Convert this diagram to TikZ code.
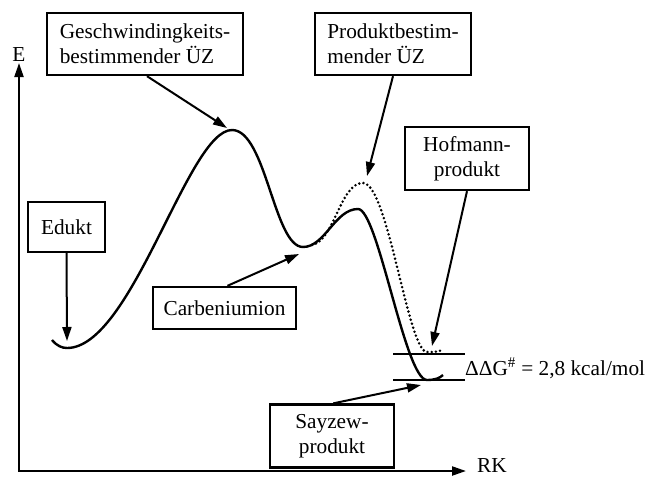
\documentclass[tikz,border=0pt]{standalone}
\usepackage{fontspec}
\setmainfont{Liberation Serif}
\usetikzlibrary{arrows.meta,calc}
\begin{document}
\begin{tikzpicture}[x=1pt,y=-1pt,
  lbl/.style={draw,line width=2.3pt,inner sep=0pt,font=\fontsize{21.3}{25}\selectfont},
  ptr/.style={line width=2pt,-{Triangle[length=14pt,width=9pt]}},
  curve/.style={line width=2.4pt},
  dotcurve/.style={line width=2.8pt,dash pattern=on 0pt off 4.2pt,line cap=round},
  level/.style={line width=2.2pt},
  axis/.style={line width=2.2pt,{Triangle[length=14pt,width=9pt]}-{Triangle[length=14pt,width=9pt]}}]
\useasboundingbox (0,0) rectangle (645,479);
% axes
\coordinate (etop) at (19,63);
\coordinate (rkend) at (466,471);
\draw[axis] (etop) |- (rkend);
\node[font=\fontsize{21.3}{25}\selectfont,inner sep=0pt] (E) at (19,55) {E};
\node[font=\fontsize{21.3}{25}\selectfont,inner sep=0pt,anchor=west] (RK) at (477,466) {RK};
% boxes
\node[lbl,minimum width=196pt,minimum height=62pt,align=left] (geschw) at (145,44) {Geschwindingkeits-\\bestimmender ÜZ};
\node[lbl,minimum width=156pt,minimum height=62pt,align=left] (produkt) at (393,44) {Produktbestim-\\mender ÜZ};
\node[lbl,minimum width=124pt,minimum height=63pt,align=center] (hofmann) at (467,158.5) {Hofmann-\\produkt};
\node[lbl,minimum width=77pt,minimum height=50pt] (edukt) at (66.5,227) {Edukt};
\node[lbl,minimum width=143pt,minimum height=42pt] (carb) at (224.5,308) {Carbeniumion};
\node[lbl,minimum width=124pt,minimum height=63pt,align=center] (sayzew) at (332,436) {Sayzew-\\produkt};
% energy curves
\draw[curve] (52,340) .. controls (57,346) and (62,348) .. (67,348)
  .. controls (132,348) and (188,130) .. (232,130)
  .. controls (266,130) and (274,247) .. (303,247)
  .. controls (325,247) and (335,209) .. (358,209)
  .. controls (378,209) and (405,380) .. (427,380)
  .. controls (435,380) and (440,378) .. (443,375);
\draw[dotcurve] (312,245) .. controls (335,240) and (340,183) .. (363,183)
  .. controls (388,183) and (408,352) .. (427,352)
  .. controls (434,352) and (438,352) .. (442,350);
% levels
\coordinate (l1a) at (393,354); \coordinate (l1b) at (465,354);
\coordinate (l2a) at (393,380); \coordinate (l2b) at (465,380);
\draw[level] (l1a) -- (l1b);
\draw[level] (l2a) -- (l2b);
\node[font=\fontsize{21.3}{25}\selectfont,inner sep=0pt,anchor=west] (ddg) at (465,368) {ΔΔG\textsuperscript{\#} = 2,8 kcal/mol};
% pointer tips
\coordinate (t1) at (227,128);
\coordinate (t2) at (367,176);
\coordinate (t3) at (432,346);
\coordinate (t4) at (67,341);
\coordinate (t5) at (299,254);
\coordinate (t6) at (421,385);
\draw[ptr] ($(geschw.south west)!0.51!(geschw.south east)$) -- (t1);
\draw[ptr] ($(produkt.south west)!0.5!(produkt.south east)$) -- (t2);
\draw[ptr] ($(hofmann.south west)!0.5!(hofmann.south east)$) -- (t3);
\draw[ptr] ($(edukt.south west)!0.5!(edukt.south east)$) -- (t4);
\draw[ptr] ($(carb.north west)!0.52!(carb.north east)$) -- (t5);
\draw[ptr] ($(sayzew.north west)!0.51!(sayzew.north east)$) -- (t6);
\end{tikzpicture}
\end{document}
